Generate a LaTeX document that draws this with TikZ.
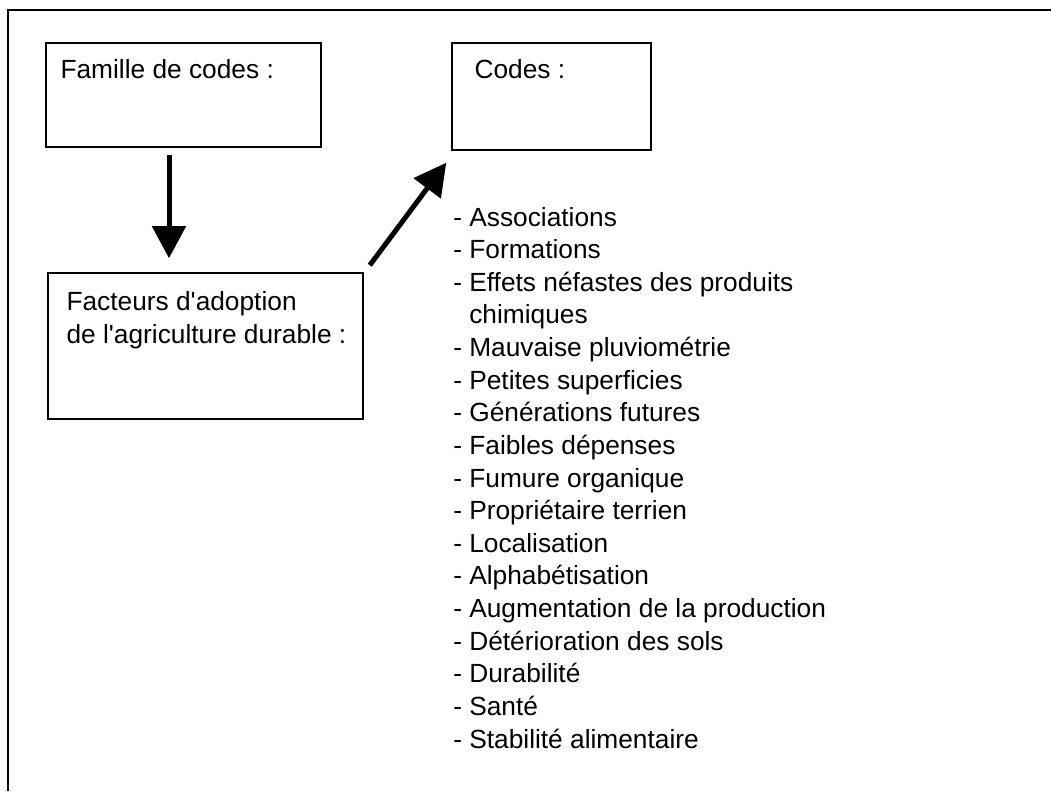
\documentclass[tikz,border=0pt]{standalone}
\usepackage{fontspec}
\setmainfont{Liberation Sans}[Ligatures=TeXOff]
\usetikzlibrary{positioning,arrows.meta}
\newlength{\basisa}
\setlength{\basisa}{0.025cm}

\begin{document}
\begin{tikzpicture}[
    font=\fontsize{18.7}{23.2}\selectfont,
    codebox/.style={draw, line width=1.5\basisa, inner sep=0pt},
    boxtitle/.style={anchor=base west, inner sep=0pt, align=left},
    bigarrow/.style={-{Triangle[length=0.8cm,width=0.825cm]}, line width=5\basisa}
]
    \useasboundingbox (0,0) rectangle (1051\basisa,791\basisa);

    % cadre
    \draw[line width=2\basisa] (8\basisa,0) -- (8\basisa,781\basisa) -- (1051\basisa,781\basisa);

    \draw (183.5\basisa,696\basisa) 
		node[codebox, minimum width=275\basisa, minimum height=104\basisa] 
			(Famille) {};
    \node[boxtitle] (FamilleTitre) at ([shift={(15\basisa,-36\basisa)}]Famille.north west) {Famille de codes :};

    \draw (551.5\basisa,694.5\basisa) 
		node[codebox, minimum width=199\basisa, minimum height=107\basisa] 
			(Codes) {};
    \node[boxtitle] (CodesTitre) at ([shift={(23\basisa,-36\basisa)}]Codes.north west) {Codes :};

    \draw (205.5\basisa,445\basisa) 
		node[codebox, minimum width=315\basisa, minimum height=146\basisa] 
			(Facteurs) {};
    % base = ligne du bas
    \node[boxtitle] (FacteursTitre) at ([shift={(19\basisa,-71\basisa)}]Facteurs.north west) {Facteurs d'adoption\\de l'agriculture durable :};

    \node[boxtitle] (Liste) at (453\basisa,43\basisa) {- Associations\\
        - Formations\\
        - Effets néfastes des produits\\
        \hphantom{- }chimiques\\
        - Mauvaise pluviométrie\\
        - Petites superficies\\
        - Générations futures\\
        - Faibles dépenses\\
        - Fumure organique\\
        - Propriétaire terrien\\
        - Localisation\\
        - Alphabétisation\\
        - Augmentation de la production\\
        - Détérioration des sols\\
        - Durabilité\\
        - Santé\\
        - Stabilité alimentaire};

	\draw[bigarrow] ([shift={(-14.5\basisa,-7\basisa)}]Famille.south) -- ([shift={(-36.5\basisa,14\basisa)}]Facteurs.north);
	\draw[bigarrow] ([shift={(6\basisa,7\basisa)}]Facteurs.north east) -- ([shift={(-5\basisa,-12\basisa)}]Codes.south west);
\end{tikzpicture}
\end{document}
